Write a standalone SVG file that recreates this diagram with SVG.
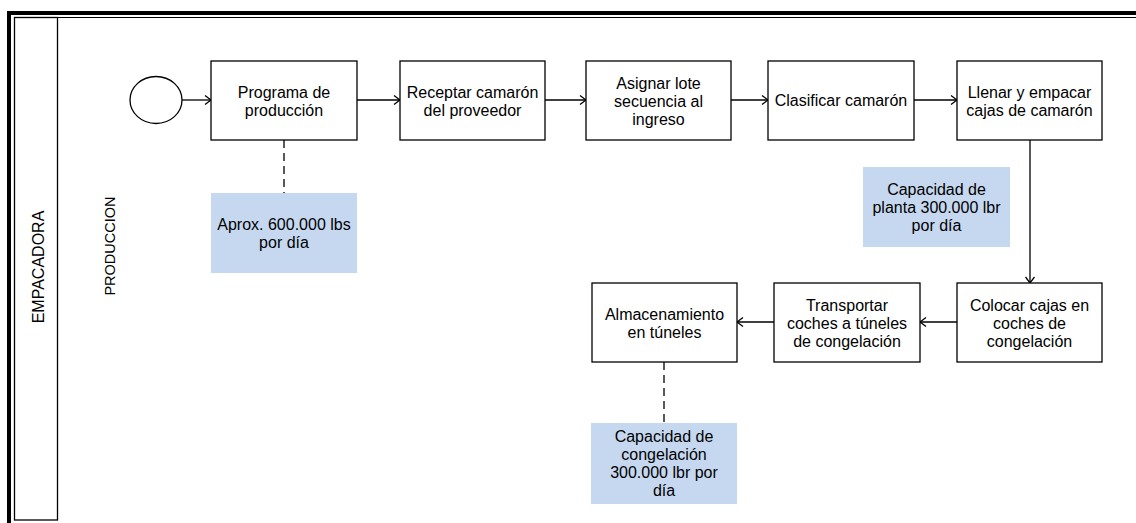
<svg xmlns="http://www.w3.org/2000/svg" width="1136" height="523" viewBox="0 0 1136 523">
  <style>
    .task { fill: #ffffff; stroke: #000000; stroke-width: 1.3; }
    .note { fill: #C6D8F0; stroke: none; }
    .lbl { font-family: "Liberation Sans", Arial, sans-serif; font-size: 16px; fill: #000000; text-anchor: middle; }
    .flow { fill: none; stroke: #000000; stroke-width: 1.3; marker-end: url(#arrow); }
    .assoc { fill: none; stroke: #000000; stroke-width: 1.3; stroke-dasharray: 8 5; }
  </style>
  <defs>
    <marker id="arrow" viewBox="0 0 8 10" refX="7" refY="5" markerWidth="8" markerHeight="10" markerUnits="userSpaceOnUse" orient="auto">
      <path d="M1,0.5 L7,5 L1,9.5" fill="none" stroke="#000000" stroke-width="1.3"/>
    </marker>
  </defs>

  <rect x="0" y="0" width="1136" height="523" fill="#ffffff"/>

  <!-- pool frame -->
  <g id="pool">
    <path d="M9,523 L9,13 L1136,13" fill="none" stroke="#000000" stroke-width="4"/>
    <path d="M14.5,520 L14.5,17.5 L1136,17.5" fill="none" stroke="#000000" stroke-width="1"/>
    <rect x="14.5" y="17.5" width="43" height="502.5" fill="none" stroke="#000000" stroke-width="1.3"/>
    <text class="lbl" transform="translate(44,267) rotate(-90)" font-size="15.6">EMPACADORA</text>
    <text class="lbl" transform="translate(115,246) rotate(-90)" style="font-size:14.5px">PRODUCCION</text>
  </g>

  <!-- connectors -->
  <g id="connectors">
    <line class="flow" x1="182" y1="100" x2="211" y2="100"/>
    <line class="flow" x1="357" y1="100" x2="400" y2="100"/>
    <line class="flow" x1="545" y1="100" x2="586" y2="100"/>
    <line class="flow" x1="731" y1="100" x2="768" y2="100"/>
    <line class="flow" x1="914" y1="100" x2="957" y2="100"/>
    <line class="flow" x1="1030" y1="140" x2="1030" y2="283"/>
    <line class="flow" x1="957" y1="322" x2="920" y2="322"/>
    <line class="flow" x1="774" y1="322" x2="737" y2="322"/>
    <line class="assoc" x1="284" y1="140" x2="284" y2="193"/>
    <line class="assoc" x1="664" y1="362" x2="664" y2="423"/>
  </g>

  <g id="start">
    <ellipse cx="156" cy="100" rx="26" ry="23.5" fill="#ffffff" stroke="#000000" stroke-width="1.3"/>
  </g>

  <g id="programa">
    <rect class="task" x="211" y="61" width="146" height="79"/>
    <text class="lbl" x="284" y="98">Programa de</text>
    <text class="lbl" x="284" y="116">producción</text>
  </g>

  <g id="receptar">
    <rect class="task" x="400" y="61" width="145" height="79"/>
    <text class="lbl" x="472.5" y="98">Receptar camarón</text>
    <text class="lbl" x="472.5" y="116">del proveedor</text>
  </g>

  <g id="asignar">
    <rect class="task" x="586" y="61" width="145" height="79"/>
    <text class="lbl" x="658.5" y="89">Asignar lote</text>
    <text class="lbl" x="658.5" y="107">secuencia al</text>
    <text class="lbl" x="658.5" y="125">ingreso</text>
  </g>

  <g id="clasificar">
    <rect class="task" x="768" y="61" width="146" height="79"/>
    <text class="lbl" x="841" y="106">Clasificar camarón</text>
  </g>

  <g id="llenar">
    <rect class="task" x="957" y="61" width="145" height="79"/>
    <text class="lbl" x="1029.5" y="98">Llenar y empacar</text>
    <text class="lbl" x="1029.5" y="116">cajas de camarón</text>
  </g>

  <g id="colocar">
    <rect class="task" x="957" y="283" width="145" height="79"/>
    <text class="lbl" x="1029.5" y="311">Colocar cajas en</text>
    <text class="lbl" x="1029.5" y="329">coches de</text>
    <text class="lbl" x="1029.5" y="347">congelación</text>
  </g>

  <g id="transportar">
    <rect class="task" x="774" y="283" width="146" height="79"/>
    <text class="lbl" x="847" y="311">Transportar</text>
    <text class="lbl" x="847" y="329">coches a túneles</text>
    <text class="lbl" x="847" y="347">de congelación</text>
  </g>

  <g id="almacenamiento">
    <rect class="task" x="592" y="283" width="145" height="79"/>
    <text class="lbl" x="664.5" y="320">Almacenamiento</text>
    <text class="lbl" x="664.5" y="338">en túneles</text>
  </g>

  <g id="nota-aprox">
    <rect class="note" x="211" y="193" width="146" height="80"/>
    <text class="lbl" x="284" y="230">Aprox. 600.000 lbs</text>
    <text class="lbl" x="284" y="248">por día</text>
  </g>

  <g id="nota-planta">
    <rect class="note" x="863" y="167" width="147" height="80"/>
    <text class="lbl" x="936.5" y="195">Capacidad de</text>
    <text class="lbl" x="936.5" y="213">planta 300.000 lbr</text>
    <text class="lbl" x="936.5" y="231">por día</text>
  </g>

  <g id="nota-congelacion">
    <rect class="note" x="591" y="423" width="146" height="81"/>
    <text class="lbl" x="664" y="442">Capacidad de</text>
    <text class="lbl" x="664" y="460">congelación</text>
    <text class="lbl" x="664" y="478">300.000 lbr por</text>
    <text class="lbl" x="664" y="496">día</text>
  </g>
</svg>
